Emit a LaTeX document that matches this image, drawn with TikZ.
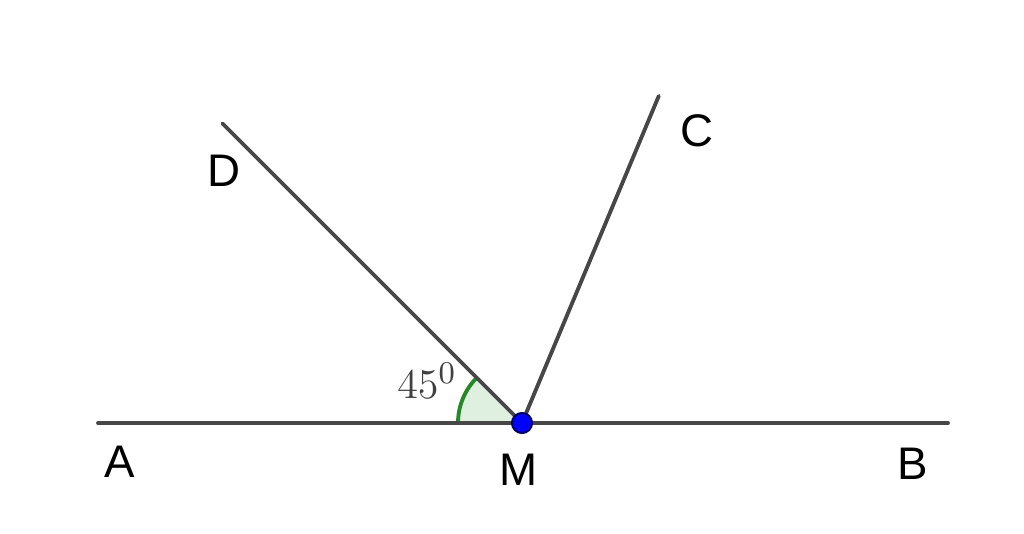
\documentclass[tikz,border=0pt]{standalone}
\usepackage{fontspec}
\setmainfont{Liberation Sans}
\usetikzlibrary{calc}
\tikzset{
  ray/.style={line width=1.1pt, color=black!72, line cap=round},
  lbl/.style={font=\fontsize{13}{15}\selectfont},
  anglefill/.style={fill=green!50!black!12, draw=none},
  anglearc/.style={line width=1.1pt, color=green!45!black!85},
}
\begin{document}
\begin{tikzpicture}
			%%%%% START %%%%%
			\useasboundingbox (0, 0) rectangle (10.24, 5.34);
			
			\coordinate (M) at (5.22, 1.11);
			\coordinate (A) at (0.98, 1.11);
			\coordinate (B) at (9.48, 1.11);
			\coordinate (D) at ($(M)+(135:4.235)$);
			\coordinate (C) at ($(M)+(67.3:3.545)$);
			
			\fill[anglefill] (M) -- ($(M)+(180:0.64)$) arc (180:135:0.64) -- cycle;
			\draw[anglearc] ($(M)+(180:0.64)$) arc (180:135:0.64);
			
			\draw[ray] (A) -- (B);
			\draw[ray] (M) -- (D);
			\draw[ray] (M) -- (C);
			
			\draw[fill=blue, draw=blue!40!black, line width=0.6pt] (M) circle (0.1);
			
			\node[lbl] (lA) at (1.20, 0.72) {A};
			\node[lbl] (lB) at (9.13, 0.70) {B};
			\node[lbl] (lM) at (5.19, 0.64) {M};
			\node[lbl] (lC) at (6.97, 4.03) {C};
			\node[lbl] (lD) at (2.24, 3.63) {D};
			\node[lbl, color=black!75] (ang) at (4.27, 1.53) {$45^0$};
			%%%%% END %%%%%
\end{tikzpicture}
\end{document}
